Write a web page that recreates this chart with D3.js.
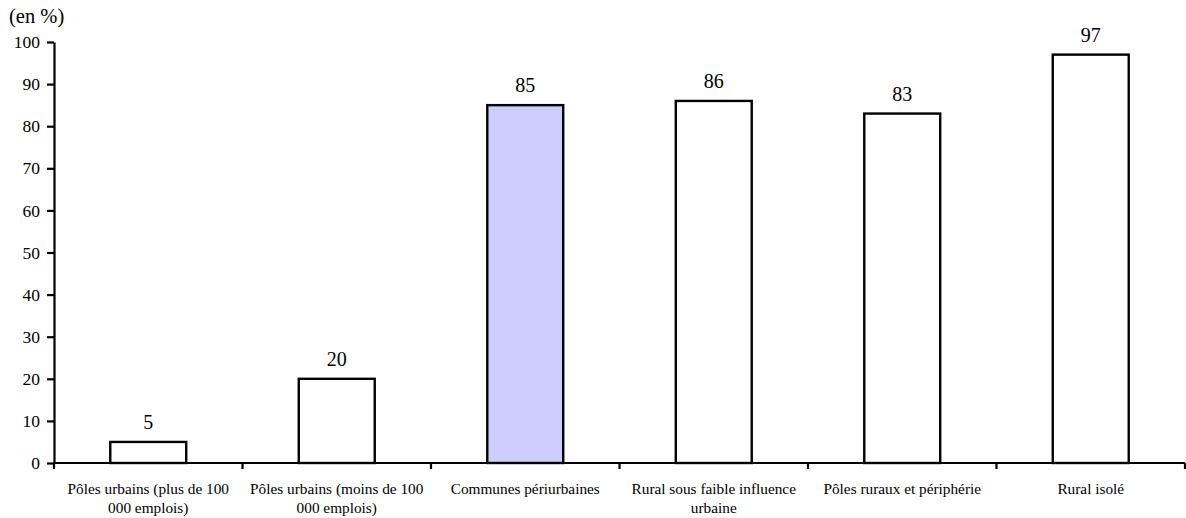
<!DOCTYPE html>
<html><head><meta charset="utf-8">
<script src="https://cdn.jsdelivr.net/npm/d3@7"></script>
<style>body{margin:0;background:#fff;font-family:'Liberation Serif',serif}svg{display:block}</style>
</head><body><svg id="c" width="1186" height="518"></svg>
<script>
const categories = [
  ["Pôles urbains (plus de 100", "000 emplois)"],
  ["Pôles urbains (moins de 100", "000 emplois)"],
  ["Communes périurbaines"],
  ["Rural sous faible influence", "urbaine"],
  ["Pôles ruraux et périphérie"],
  ["Rural isolé"]
];
const values = [5, 20, 85, 86, 83, 97];
const highlighted = [false, false, true, false, false, false];
const yTicks = [0,10,20,30,40,50,60,70,80,90,100];
const FONT = "'Liberation Serif', serif";

const svg = d3.select("#c");
const x = d3.scaleBand().domain(d3.range(categories.length)).range([54, 1185]).paddingInner(0).paddingOuter(0);
const y = d3.scaleLinear().domain([0,100]).range([463, 42]);
const bw = x.bandwidth()*0.403;

svg.selectAll("rect.bar").data(values).join("rect")
  .attr("x",(d,i)=>x(i)+x.bandwidth()/2-bw/2)
  .attr("y",d=>y(d)).attr("width",bw).attr("height",d=>y(0)-y(d))
  .attr("fill",(d,i)=>highlighted[i]?"#ccccff":"#fff")
  .attr("stroke","#000").attr("stroke-width",2.4);

svg.selectAll("text.val").data(values).join("text")
  .attr("x",(d,i)=>x(i)+x.bandwidth()/2).attr("y",d=>y(d)-13)
  .attr("text-anchor","middle").style("font-size","20px").style("font-family",FONT).text(d=>d);

const ya = svg.append("g").attr("transform","translate(54,0)")
  .call(d3.axisLeft(y).tickValues(yTicks).tickSize(7).tickPadding(7).tickSizeOuter(0));
ya.attr("font-family",null).attr("font-size",null);
ya.select(".domain").attr("stroke","#000").attr("stroke-width",2.2);
ya.selectAll(".tick line").attr("stroke","#000").attr("stroke-width",2.2);
ya.selectAll(".tick text").style("font-size","17.5px").style("font-family",FONT).attr("fill","#000");

svg.append("line").attr("x1",54).attr("x2",1185).attr("y1",y(0)).attr("y2",y(0)).attr("stroke","#000").attr("stroke-width",2.2);
const bounds = d3.range(categories.length+1).map(i=> i<categories.length ? x(i) : x(i-1)+x.bandwidth());
svg.selectAll("line.xt").data(bounds).join("line")
  .attr("x1",d=>d).attr("x2",d=>d).attr("y1",y(0)).attr("y2",y(0)+6)
  .attr("stroke","#000").attr("stroke-width",2.2);

categories.forEach((lines,i)=>{
  const t = svg.append("text").attr("x",x(i)+x.bandwidth()/2).attr("y",y(0)+31)
    .attr("text-anchor","middle").style("font-size","15.3px").style("font-family",FONT);
  lines.forEach((l,j)=>t.append("tspan").attr("x",x(i)+x.bandwidth()/2).attr("dy",j?19:0).text(l));
});

svg.append("text").attr("x",9).attr("y",23).style("font-size","20.5px").style("font-family",FONT).text("(en %)");
</script></body></html>
